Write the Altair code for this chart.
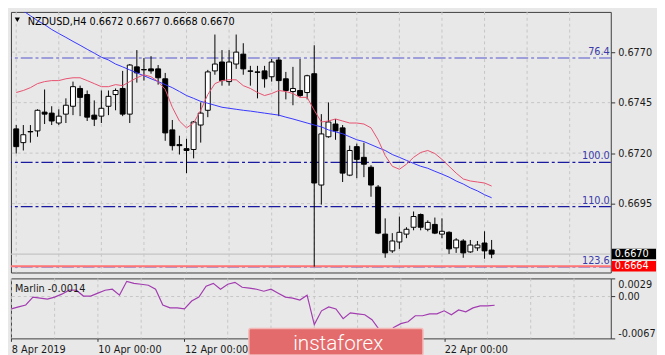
import altair as alt
import pandas as pd

# ---------------- data ----------------
opens = [0.67320, 0.67252, 0.67305, 0.67310, 0.67403, 0.67398, 0.67349, 0.67393, 0.67432, 0.67520,
         0.67490, 0.67388, 0.67383, 0.67432, 0.67490, 0.67520, 0.67393, 0.67627, 0.67612, 0.67617,
         0.67617, 0.67568, 0.67315, 0.67242, 0.67222, 0.67218, 0.67339, 0.67412, 0.67607, 0.67651,
         0.67554, 0.67641, 0.67690, 0.67607, 0.67602, 0.67607, 0.67578, 0.67661, 0.67568, 0.67505,
         0.67510, 0.67500, 0.67593, 0.67042, 0.67281, 0.67344, 0.67325, 0.67091, 0.67232, 0.67179,
         0.67130, 0.67032, 0.66799, 0.66716, 0.66760, 0.66799, 0.66833, 0.66896, 0.66823, 0.66847,
         0.66799, 0.66808, 0.66731, 0.66765, 0.66711, 0.66731, 0.66755, 0.66720]
highs = [0.67339, 0.67339, 0.67339, 0.67417, 0.67515, 0.67432, 0.67417, 0.67471, 0.67554, 0.67534,
         0.67510, 0.67461, 0.67510, 0.67510, 0.67520, 0.67607, 0.67641, 0.67710, 0.67671, 0.67680,
         0.67636, 0.67597, 0.67364, 0.67286, 0.67271, 0.67359, 0.67451, 0.67612, 0.67787, 0.67710,
         0.67710, 0.67787, 0.67744, 0.67632, 0.67632, 0.67632, 0.67666, 0.67675, 0.67602, 0.67627,
         0.67666, 0.67588, 0.67734, 0.67393, 0.67451, 0.67368, 0.67339, 0.67237, 0.67247, 0.67252,
         0.67140, 0.67042, 0.66877, 0.66804, 0.66886, 0.66833, 0.66911, 0.66901, 0.66867, 0.66881,
         0.66877, 0.66813, 0.66779, 0.66774, 0.66770, 0.66765, 0.66813, 0.66770]
lows = [0.67198, 0.67213, 0.67252, 0.67281, 0.67344, 0.67339, 0.67339, 0.67349, 0.67388, 0.67383,
        0.67359, 0.67334, 0.67349, 0.67388, 0.67412, 0.67383, 0.67349, 0.67549, 0.67559, 0.67593,
        0.67539, 0.67261, 0.67213, 0.67193, 0.67101, 0.67174, 0.67252, 0.67378, 0.67588, 0.67534,
        0.67534, 0.67617, 0.67588, 0.67534, 0.67471, 0.67524, 0.67554, 0.67383, 0.67466, 0.67437,
        0.67476, 0.67466, 0.66638, 0.66945, 0.67276, 0.67266, 0.67057, 0.67086, 0.67076, 0.67081,
        0.66984, 0.66799, 0.66682, 0.66706, 0.66726, 0.66779, 0.66818, 0.66818, 0.66813, 0.66799,
        0.66779, 0.66701, 0.66706, 0.66682, 0.66706, 0.66716, 0.66677, 0.66680]
closes = [0.67232, 0.67291, 0.67307, 0.67412, 0.67393, 0.67359, 0.67383, 0.67437, 0.67529, 0.67476,
          0.67378, 0.67368, 0.67422, 0.67481, 0.67510, 0.67393, 0.67636, 0.67597, 0.67614, 0.67607,
          0.67573, 0.67300, 0.67237, 0.67237, 0.67213, 0.67354, 0.67398, 0.67602, 0.67641, 0.67559,
          0.67651, 0.67700, 0.67617, 0.67605, 0.67600, 0.67568, 0.67651, 0.67559, 0.67510, 0.67520,
          0.67485, 0.67583, 0.67052, 0.67295, 0.67354, 0.67310, 0.67101, 0.67213, 0.67169, 0.67145,
          0.67042, 0.66804, 0.66706, 0.66765, 0.66808, 0.66823, 0.66886, 0.66833, 0.66857, 0.66804,
          0.66813, 0.66726, 0.66770, 0.66706, 0.66745, 0.66745, 0.66716, 0.66700]
ma_slow = [0.67924, 0.67904, 0.67880, 0.67856, 0.67836, 0.67812, 0.67792, 0.67773, 0.67753, 0.67734,
           0.67714, 0.67695, 0.67675, 0.67661, 0.67641, 0.67627, 0.67612, 0.67597, 0.67583, 0.67568,
           0.67554, 0.67539, 0.67524, 0.67505, 0.67485, 0.67471, 0.67456, 0.67447, 0.67437, 0.67427,
           0.67422, 0.67417, 0.67412, 0.67408, 0.67403, 0.67398, 0.67393, 0.67388, 0.67378, 0.67369,
           0.67359, 0.67349, 0.67339, 0.67330, 0.67315, 0.67305, 0.67296, 0.67281, 0.67266, 0.67257,
           0.67242, 0.67227, 0.67213, 0.67193, 0.67179, 0.67164, 0.67149, 0.67135, 0.67125, 0.67110,
           0.67096, 0.67081, 0.67062, 0.67047, 0.67028, 0.67013, 0.66994, 0.66979]
ma_fast = [0.67500, 0.67510, 0.67524, 0.67544, 0.67554, 0.67559, 0.67559, 0.67568, 0.67573, 0.67573,
           0.67559, 0.67544, 0.67529, 0.67529, 0.67539, 0.67534, 0.67554, 0.67573, 0.67588, 0.67578,
           0.67554, 0.67515, 0.67427, 0.67359, 0.67325, 0.67349, 0.67412, 0.67490, 0.67544, 0.67559,
           0.67563, 0.67563, 0.67534, 0.67520, 0.67500, 0.67485, 0.67495, 0.67510, 0.67505, 0.67495,
           0.67476, 0.67476, 0.67412, 0.67354, 0.67359, 0.67369, 0.67359, 0.67349, 0.67349, 0.67344,
           0.67325, 0.67266, 0.67188, 0.67135, 0.67120, 0.67145, 0.67179, 0.67203, 0.67213, 0.67198,
           0.67169, 0.67135, 0.67101, 0.67072, 0.67062, 0.67057, 0.67052, 0.67037]
marlin = [-0.00198, -0.00166, -0.00135, -0.00009, -0.00025, -0.00041, -0.00009, 0.00038, 0.00101, 0.00101,
          0.00007, 0.00007, 0.00054, 0.00101, 0.00117, 0.00022, 0.00243, 0.00211, 0.00196, 0.00180,
          0.00117, -0.00135, -0.00182, -0.00182, -0.00198, -0.00072, -0.00009, 0.00164, 0.00211, 0.00117,
          0.00196, 0.00227, 0.00148, 0.00133, 0.00117, 0.00085, 0.00117, 0.00054, -0.00009, -0.00025,
          -0.00056, 0.00022, -0.00450, -0.00229, -0.00166, -0.00198, -0.00355, -0.00261, -0.00277, -0.00292,
          -0.00371, -0.00528, -0.00623, -0.00497, -0.00434, -0.00403, -0.00308, -0.00308, -0.00277, -0.00277,
          -0.00229, -0.00292, -0.00214, -0.00245, -0.00182, -0.00151, -0.00151, -0.00140]

price_ticks = [0.6695, 0.6720, 0.6745, 0.6770]
grid_bars = [0, 6, 12, 18, 24, 30, 36, 42, 48, 54, 60, 66, 72, 78]
fib_levels = [0.67671, 0.67154, 0.66935, 0.66637]
fib_labels = ["76.4", "100.0", "110.0", "123.6"]
bid_price = 0.6670
alert_price = 0.6664
box_labels = ["0.6670", "0.6664"]
osc_ticks = [0.0029, 0.0, -0.0067]
osc_labels = ["0.0029", "0.00", "-0.0067"]
date_bars = [0, 12, 24, 60]
date_labels = ["8 Apr 2019", "10 Apr 00:00", "12 Apr 00:00", "22 Apr 00:00"]
title_text = "NZDUSD,H4  0.6672 0.6677 0.6668 0.6670"
osc_title = "Marlin -0.0014"
watermark = "instaforex"

# ---------------- styling ----------------
FONT = "DejaVu Sans Condensed, Liberation Sans, sans-serif"
BG = "#e8e8e8"
GRID = "#c6c6c6"
W, H1, H2 = 610, 265, 61

XS = alt.Scale(domain=[-0.05, 83.1], nice=False, zero=False)
YS = alt.Scale(domain=[0.66609, 0.67899], nice=False, zero=False)
OS = alt.Scale(domain=[-0.0067, 0.0029], nice=False, zero=False)


def expr_for(vals, labs, tol):
    e = "''"
    for v, l in reversed(list(zip(vals, labs))):
        e = f"abs(datum.value - ({v})) < {tol} ? '{l}' : " + e
    return e


yaxis = alt.Axis(orient="right", values=price_ticks, format=".4f", grid=False, domain=False,
                 tickSize=4, tickColor="#333333", labelFont=FONT, labelFontSize=11,
                 labelColor="#1a1a1a", labelPadding=3, title=None)
oaxis = alt.Axis(orient="right", values=osc_ticks, labelExpr=expr_for(osc_ticks, osc_labels, 1e-7),
                 grid=False, domain=False, tickSize=4, tickColor="#333333", labelFont=FONT,
                 labelFontSize=11, labelColor="#1a1a1a", labelPadding=3, labelFlush=True, title=None)
xaxis = alt.Axis(values=date_bars, labelExpr=expr_for(date_bars, date_labels, 0.01), labelAlign="left",
                 labelFlush=False, labelOverlap=False, tickSize=3, tickColor="#333333", labelPadding=2,
                 domain=False, grid=False, labelFont=FONT, labelFontSize=11, labelColor="#1a1a1a", title=None)


def X():
    return alt.X("i:Q", scale=XS, axis=None)


def Y(f):
    return alt.Y(f"{f}:Q", scale=YS, axis=yaxis)


def XO():
    return alt.X("i:Q", scale=XS, axis=xaxis)


def YO(f):
    return alt.Y(f"{f}:Q", scale=OS, axis=oaxis)


n = len(opens)
idx = list(range(n))
candles = pd.DataFrame({"i": idx, "o": opens, "h": highs, "l": lows, "c": closes})
candles["fill"] = ["#ffffff" if c > o else "#000000" for o, c in zip(opens, closes)]
ma_df = pd.DataFrame({"i": idx, "slow": ma_slow, "fast": ma_fast})
grid_df = pd.DataFrame({"i": grid_bars})
fib_df = pd.DataFrame({"p": fib_levels, "lab": fib_labels,
                       "col": ["#5555cc", "#1a1aa0", "#1a1aa0", "#5555cc"]})
HALF = 0.00026
box_df = pd.DataFrame({"p": [bid_price, alert_price], "lab": box_labels, "col": ["#000000", "#ff0000"]})
box_df["top"] = box_df["p"] + HALF
box_df["bot"] = box_df["p"] - HALF
title_df = pd.DataFrame({"t": [title_text]})

vgrid = alt.Chart(grid_df).mark_rule(color=GRID, strokeDash=[3, 3]).encode(x=X())
hgrid = alt.Chart(pd.DataFrame({"p": price_ticks})).mark_rule(color=GRID, strokeDash=[3, 3]).encode(y=Y("p"))
fib_lines = alt.Chart(fib_df).mark_rule(strokeDash=[12, 3, 3, 3], strokeWidth=1.2).encode(
    y=Y("p"), color=alt.Color("col:N", scale=None))
bid_line = alt.Chart(pd.DataFrame({"p": [bid_price]})).mark_rule(color="#c4c4c4", strokeWidth=1.5).encode(y=Y("p"))
alert_line = alt.Chart(pd.DataFrame({"p": [alert_price]})).mark_rule(color="#ff7474", strokeWidth=2).encode(y=Y("p"))
wicks = alt.Chart(candles).mark_rule(color="#000000", strokeWidth=1).encode(x=X(), y=Y("l"), y2="h")
bodies = alt.Chart(candles).mark_bar(size=5, stroke="#000000", strokeWidth=1).encode(
    x=X(), y=Y("o"), y2="c", fill=alt.Fill("fill:N", scale=None))
blue = alt.Chart(ma_df).mark_line(color="#3535ff", strokeWidth=1, clip=True).encode(x=X(), y=Y("slow"))
red = alt.Chart(ma_df).mark_line(color="#e8506e", strokeWidth=1, clip=True).encode(x=X(), y=Y("fast"))
fib_text = alt.Chart(fib_df).mark_text(align="right", baseline="bottom", dy=-1, font=FONT, fontSize=11,
                                       color="#3a3aa8").encode(x=alt.value(W - 1), y=Y("p"), text="lab:N")
title = alt.Chart(title_df).mark_text(align="left", baseline="alphabetic", font=FONT, fontSize=11,
                                      color="#000000").encode(x=alt.value(17), y=alt.value(13), text="t:N")
tri = alt.Chart(title_df).mark_point(shape="triangle-down", filled=True, color="#000000", size=28,
                                     opacity=1).encode(x=alt.value(6.5), y=alt.value(8))
boxes = alt.Chart(box_df).mark_rect().encode(x=alt.value(W + 1), x2=alt.value(W + 46), y=Y("top"), y2="bot",
                                             fill=alt.Fill("col:N", scale=None))
box_text = alt.Chart(box_df).mark_text(align="left", baseline="middle", font=FONT, fontSize=11,
                                       color="#ffffff").encode(x=alt.value(W + 4), y=Y("p"), text="lab:N")

main = alt.layer(vgrid, hgrid, fib_lines, bid_line, alert_line, wicks, bodies, blue, red,
                 fib_text, title, tri, boxes, box_text).properties(width=W, height=H1)

osc_df = pd.DataFrame({"i": idx, "v": marlin})
vgrid_o = alt.Chart(grid_df).mark_rule(color=GRID, strokeDash=[3, 3]).encode(x=XO())
zero_o = alt.Chart(pd.DataFrame({"v": [0.0]})).mark_rule(color=GRID, strokeDash=[3, 3]).encode(y=YO("v"))
line_o = alt.Chart(osc_df).mark_line(color="#a23cb0", strokeWidth=1.2).encode(x=XO(), y=YO("v"))
otitle = alt.Chart(pd.DataFrame({"t": [osc_title]})).mark_text(
    align="left", baseline="alphabetic", font=FONT, fontSize=11, color="#1a1a1a").encode(
    x=alt.value(4), y=alt.value(14), text="t:N")
banner = alt.Chart(pd.DataFrame({"t": [watermark]})).mark_rect(
    color="#e36b6b", stroke="#f4b8b8", strokeWidth=1.5, cornerRadius=2).encode(
    x=alt.value(242), x2=alt.value(419), y=alt.value(51), y2=alt.value(78))
banner_text = alt.Chart(pd.DataFrame({"t": [watermark]})).mark_text(
    align="left", baseline="alphabetic", font="Roboto", fontSize=21, fontWeight=300, color="#ffffff").encode(
    x=alt.value(287), y=alt.value(73), text="t:N")

osc = alt.layer(vgrid_o, zero_o, line_o, otitle, banner, banner_text).properties(width=W, height=H2)

chart = alt.vconcat(main, osc, spacing=4).properties(
    background=BG, padding={"left": 0, "top": 0, "right": 0, "bottom": 0}
).configure_view(fill=BG, stroke="#3c3c3c", strokeWidth=1)

chart.save("out.html", embed_options={"renderer": "svg", "actions": False})
